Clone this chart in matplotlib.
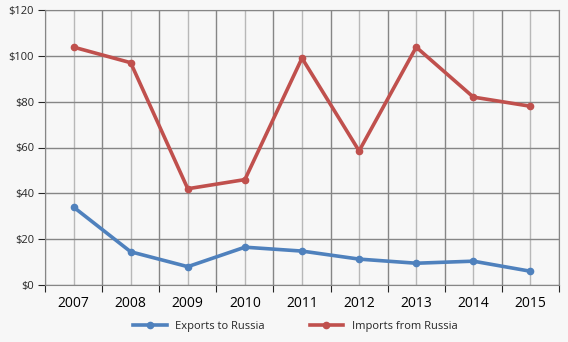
import matplotlib.pyplot as plt
from matplotlib.ticker import FuncFormatter, MultipleLocator

plt.rcParams['font.family'] = ['Open Sans', 'DejaVu Sans']

years = ['2007', '2008', '2009', '2010', '2011', '2012', '2013', '2014', '2015']
exports = [34, 14.5, 8, 16.5, 14.8, 11.3, 9.5, 10.4, 6]
imports = [103.8, 97, 42, 46, 99, 58.5, 103.8, 82, 78]

bg = '#f7f7f7'
fig = plt.figure(figsize=(5.68, 3.42), dpi=100, facecolor=bg)
ax = fig.add_axes([45 / 568, 57 / 342, 514 / 568, 275 / 342], facecolor=bg)

x = range(len(years))
ax.plot(x, exports, color='#4f81bd', lw=2.6, marker='o', ms=4.5, label='Exports to Russia')
ax.plot(x, imports, color='#c0504d', lw=2.6, marker='o', ms=4.5, label='Imports from Russia')

ax.set_xlim(-0.5, len(years) - 0.5)
ax.set_ylim(0, 120)
ax.yaxis.set_major_locator(MultipleLocator(20))
ax.yaxis.set_major_formatter(FuncFormatter(lambda v, p: f'${v:.0f}'))

# grid: dark lines at category boundaries, lighter lines at centres
ax.set_xticks([i + 0.5 for i in range(-1, len(years))])
ax.set_xticklabels([])
ax.set_xticks(list(x), minor=True)
ax.set_xticklabels(years, minor=True)
ax.tick_params(axis='x', which='major', length=5, color='#868686')
ax.tick_params(axis='x', which='minor', length=0, pad=8)
ax.tick_params(axis='y', length=5, color='#868686', pad=3)
ax.tick_params(labelsize=8, colors='#262626')
ax.grid(True, which='major', color='#868686', lw=1)
ax.grid(True, which='minor', axis='x', color='#b8b8b8', lw=1)
ax.set_axisbelow(True)
for s in ax.spines.values():
    s.set_color('#868686')

fig.legend(loc='lower center', ncol=2, frameon=False, fontsize=8,
           bbox_to_anchor=(0.52, 0.0), handlelength=3, columnspacing=4,
           labelcolor='#262626')

plt.savefig('out.png', dpi=100, facecolor=bg)
